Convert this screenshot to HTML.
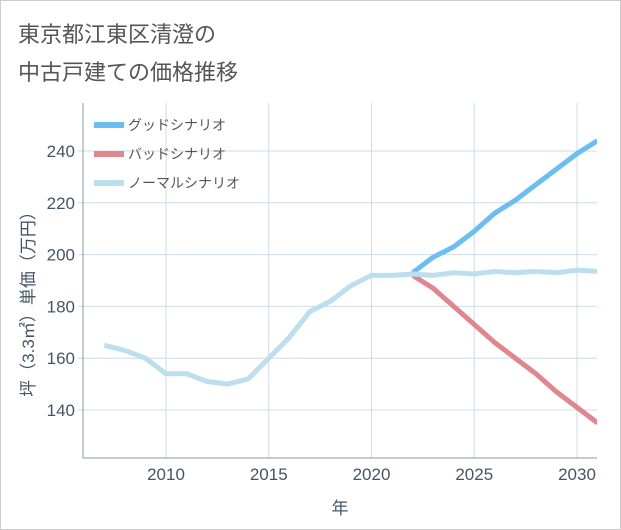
<!DOCTYPE html>
<html><head><meta charset="utf-8"><style>
body{margin:0;background:#fff;}
#wrap{position:relative;width:619px;height:528px;border:1px solid #ccc;background:#fff;font-family:"Liberation Sans","Noto Sans CJK JP",sans-serif;}
.title{position:absolute;left:17px;font-size:22px;color:#555;}
</style></head><body>
<div id="wrap">
<div class="title" style="top:16px">東京都江東区清澄の</div>
<div class="title" style="top:54px">中古戸建ての価格推移</div>
<svg id="chart" width="621" height="530" style="position:absolute;left:-1px;top:-1px"></svg>
</div>
<script>
const years=[2007,2008,2009,2010,2011,2012,2013,2014,2015,2016,2017,2018,2019,2020,2021,2022,2023,2024,2025,2026,2027,2028,2029,2030,2031];
const normal=[165,163,160,154,154,151,150,152,160,168,178,182,188,192,192,192.5,192,193,192.5,193.5,193,193.5,193,194,193.5];
const goodYears=[2022,2023,2024,2025,2026,2027,2028,2029,2030,2031];
const good=[193,199,203,209,216,221,227,233,239,244];
const bad=[192,187,180,173,166,160,154,147,141,135];
const xTicks=[2010,2015,2020,2025,2030];
const yTicks=[140,160,180,200,220,240];
const L=83,R=597,T=103,B=458;
const x=v=>166+(v-2010)*20.55;
const y=v=>151+(240-v)*2.59;
const svg=document.getElementById('chart');
const NS='http://www.w3.org/2000/svg';
function mk(t,a,p){const e=document.createElementNS(NS,t);for(const k in a)e.setAttribute(k,a[k]);(p||svg).appendChild(e);return e;}
xTicks.forEach(v=>{const l=mk('line',{x1:x(v),x2:x(v),y1:T,y2:B,stroke:'#cddceb','stroke-width':1});


const t=mk('text',{x:x(v),y:480,'text-anchor':'middle','font-size':17,fill:'#445566'});t.textContent=v;

});
yTicks.forEach(v=>{const l=mk('line',{x1:L-5,x2:R,y1:y(v),y2:y(v),stroke:'#cddceb','stroke-width':1});


const t=mk('text',{x:L-8,y:y(v)+6,'text-anchor':'end','font-size':17,fill:'#445566'});t.textContent=v;

});
const ax=mk('path',{d:`M${L},${T}V${B}H${R}`,fill:'none',stroke:'#8899aa','stroke-width':1});


function line(xs,ys,c,n){const p=mk('polyline',{points:xs.map((v,i)=>x(v)+','+y(ys[i])).join(' '),fill:'none',stroke:c,'stroke-width':5,'stroke-linejoin':'round'});

}
const cp=mk('clipPath',{id:'cp'});mk('rect',{x:L,y:T,width:R-L,height:B-T},cp);
line(goodYears,good,'#6bbdf2','good-scenario-line');
line(goodYears,bad,'#e0868f','bad-scenario-line');
line(years,normal,'#bcdfee','normal-scenario-line');
svg.querySelectorAll('polyline').forEach(p=>p.setAttribute('clip-path','url(#cp)'));
const leg=[['グッドシナリオ','#6bbdf2'],['バッドシナリオ','#e0868f'],['ノーマルシナリオ','#bcdfee']];
leg.forEach((d,i)=>{const yy=125+i*29;
const r=mk('rect',{x:94,y:yy-3,width:30,height:6,fill:d[1]});


const t=mk('text',{x:128,y:yy+5,'font-size':14,fill:'#555'});t.textContent=d[0];

});
const xt=mk('text',{x:340,y:514,'text-anchor':'middle','font-size':17,fill:'#445566'});xt.textContent='年';


const yt=mk('text',{x:0,y:0,'text-anchor':'middle','font-size':17,fill:'#445566',transform:'translate(34,300) rotate(-90)'});yt.textContent='坪（3.3㎡）単価（万円）';


</script>
</body></html>
